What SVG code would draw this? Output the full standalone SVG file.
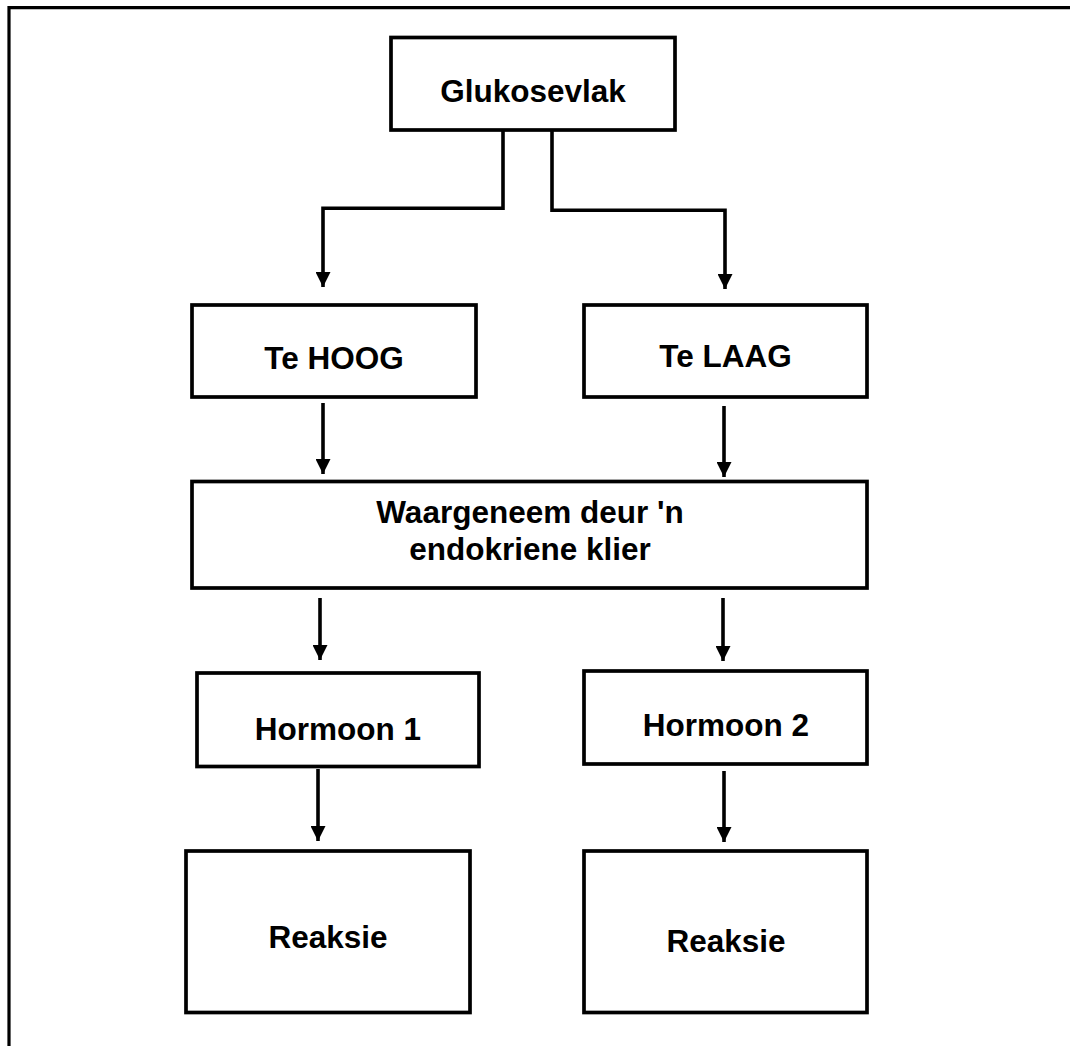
<svg xmlns="http://www.w3.org/2000/svg" width="1070" height="1046" viewBox="0 0 1070 1046">
<defs>
<style>
.box{fill:#fff;stroke:#000;stroke-width:3.7}
.lbl{font-family:"Liberation Sans",Arial,sans-serif;font-weight:bold;font-size:31.5px;fill:#000;text-anchor:middle}
.con{fill:none;stroke:#000;stroke-width:3.6}
</style>
<marker id="ah" viewBox="0 0 10 10" refX="10" refY="5" markerWidth="15" markerHeight="15" markerUnits="userSpaceOnUse" orient="auto">
<path d="M0,0 L10,5 L0,10 Z" fill="#000"/>
</marker>
</defs>
<rect width="1070" height="1046" fill="#fff"/>
<path d="M9,1046 V7.7 H1070" fill="none" stroke="#000" stroke-width="3.2"/>
<g id="connectors">
<path class="con" d="M503,130 V208.3 H323 V287" marker-end="url(#ah)"/>
<path class="con" d="M552,130 V210.3 H725 V289" marker-end="url(#ah)"/>
<path class="con" d="M323,403 V474" marker-end="url(#ah)"/>
<path class="con" d="M724,406 V477" marker-end="url(#ah)"/>
<path class="con" d="M320,598 V660" marker-end="url(#ah)"/>
<path class="con" d="M723,598 V661" marker-end="url(#ah)"/>
<path class="con" d="M318,769 V841" marker-end="url(#ah)"/>
<path class="con" d="M724,771 V842" marker-end="url(#ah)"/>
</g>
<g id="glukosevlak"><rect class="box" x="391" y="37.5" width="284" height="92.5"/><text class="lbl" x="533" y="102">Glukosevlak</text></g>
<g id="te-hoog"><rect class="box" x="192" y="305" width="284" height="92"/><text class="lbl" x="334" y="369">Te HOOG</text></g>
<g id="te-laag"><rect class="box" x="584" y="305" width="283" height="92"/><text class="lbl" x="725.5" y="367">Te LAAG</text></g>
<g id="waargeneem"><rect class="box" x="192" y="481.5" width="675" height="106.5"/><text class="lbl" x="530" y="523">Waargeneem deur 'n</text><text class="lbl" x="530" y="560">endokriene klier</text></g>
<g id="hormoon1"><rect class="box" x="197" y="673" width="282" height="93.5"/><text class="lbl" x="338" y="740">Hormoon 1</text></g>
<g id="hormoon2"><rect class="box" x="584" y="671" width="283" height="93"/><text class="lbl" x="726" y="736">Hormoon 2</text></g>
<g id="reaksie1"><rect class="box" x="186" y="851" width="284" height="161.5"/><text class="lbl" x="328" y="948">Reaksie</text></g>
<g id="reaksie2"><rect class="box" x="584" y="851" width="283" height="161.5"/><text class="lbl" x="726" y="952">Reaksie</text></g>
</svg>
